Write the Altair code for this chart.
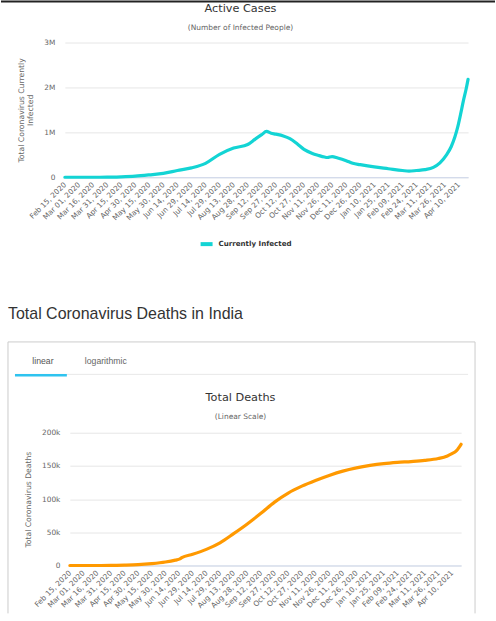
import altair as alt
import pandas as pd

# ---------------- data ----------------
active_dates = ["2020-02-15", "2020-03-01", "2020-03-16", "2020-03-31", "2020-04-15", "2020-04-30",
                "2020-05-15", "2020-05-30", "2020-06-14", "2020-06-29", "2020-07-14", "2020-07-29",
                "2020-08-13", "2020-08-28", "2020-09-05", "2020-09-12", "2020-09-17", "2020-09-22",
                "2020-09-27", "2020-10-05", "2020-10-12", "2020-10-20", "2020-10-27", "2020-11-05",
                "2020-11-11", "2020-11-18", "2020-11-21", "2020-11-26", "2020-12-02", "2020-12-11",
                "2020-12-18", "2020-12-26", "2021-01-10", "2021-01-25", "2021-02-09", "2021-02-16",
                "2021-02-24", "2021-03-05", "2021-03-14", "2021-03-21", "2021-03-28", "2021-04-02",
                "2021-04-06", "2021-04-09", "2021-04-12", "2021-04-15", "2021-04-18", "2021-04-20"]
active_values = [3, 3, 100, 1300, 10000, 25000,
                 53000, 87000, 150000, 210000, 310000, 510000,
                 650000, 730000, 850000, 950000, 1020000, 980000,
                 960000, 920000, 860000, 740000, 620000, 530000,
                 490000, 450000, 440000, 460000, 430000, 370000,
                 310000, 280000, 230000, 190000, 150000, 135000,
                 150000, 170000, 220000, 320000, 500000, 680000,
                 900000, 1120000, 1400000, 1700000, 1970000, 2180000]

death_dates = ["2020-02-15", "2020-03-10", "2020-03-20", "2020-03-31", "2020-04-15", "2020-04-30",
               "2020-05-15", "2020-05-30", "2020-06-10", "2020-06-15", "2020-06-17", "2020-06-29",
               "2020-07-14", "2020-07-29", "2020-08-13", "2020-08-28", "2020-09-12", "2020-09-27",
               "2020-10-12", "2020-10-27", "2020-11-11", "2020-11-26", "2020-12-11", "2020-12-26",
               "2021-01-10", "2021-01-25", "2021-02-09", "2021-02-24", "2021-03-11", "2021-03-26",
               "2021-04-05", "2021-04-10", "2021-04-15", "2021-04-20"]
death_values = [0, 0, 4, 35, 420, 1150,
                2750, 5200, 8100, 9900, 11900, 16900,
                24300, 34200, 48000, 62600, 78600, 95500,
                109150, 119500, 128100, 135700, 142200, 147100,
                150800, 153500, 155300, 156600, 158300, 161200,
                165100, 168400, 173100, 182600]

tick_dates = ["2020-02-15", "2020-03-01", "2020-03-16", "2020-03-31", "2020-04-15", "2020-04-30",
              "2020-05-15", "2020-05-30", "2020-06-14", "2020-06-29", "2020-07-14", "2020-07-29",
              "2020-08-13", "2020-08-28", "2020-09-12", "2020-09-27", "2020-10-12", "2020-10-27",
              "2020-11-11", "2020-11-26", "2020-12-11", "2020-12-26", "2021-01-10", "2021-01-25",
              "2021-02-09", "2021-02-24", "2021-03-11", "2021-03-26", "2021-04-10"]
active_ticks = [0, 1000000, 2000000, 3000000]
death_ticks = [0, 50000, 100000, 150000, 200000]
series_name = ["Currently Infected"]

# ---------------- style ----------------
CYAN = "#13d4d4"
ORANGE = "#ff9900"
FONT = "DejaVu Sans"
LABEL = "#666666"
DARK = "#333333"


def ms(d):
    return int(pd.Timestamp(d, tz="UTC").value // 10**6)


start, end = ms("2020-02-15"), ms("2021-04-20")
tick_ms = [ms(d) for d in tick_dates]
label_expr = "utcFormat(datum.value, '%b %d, %Y')"


def x_axis():
    return alt.Axis(values=tick_ms, labelExpr=label_expr, labelAngle=-45, labelAlign="right",
                    labelBaseline="middle", labelPadding=6, labelFontSize=7.4, labelColor=LABEL,
                    labelOverlap=False, labelFlush=False, labelFont=FONT, ticks=False, grid=False,
                    title=None, domain=True, domainColor="#ccd6eb")


def txt(chart_text, x, y, size, color=DARK, align="center", font=FONT, weight="normal"):
    return alt.Chart(pd.DataFrame({"t": [chart_text]})).mark_text(
        font=font, fontSize=size, color=color, align=align, baseline="alphabetic", fontWeight=weight
    ).encode(x=alt.value(x), y=alt.value(y), text="t:N")


def rule(x, x2, y, y2, color, width=1.0):
    return alt.Chart(pd.DataFrame({"a": [0]})).mark_rule(color=color, strokeWidth=width).encode(
        x=alt.value(x), x2=alt.value(x2), y=alt.value(y), y2=alt.value(y2))


def y_axis(ticks, expr, title, pad):
    return alt.Axis(values=ticks, labelExpr=expr, grid=True, gridColor="#e6e6e6", domain=False,
                    ticks=False, labelOverlap=False, labelPadding=pad, labelFontSize=7.4,
                    labelColor=LABEL, labelFont=FONT, title=title, titleFontSize=7.7,
                    titleColor=LABEL, titleFontWeight="normal", titleFont=FONT,
                    titlePadding=9, titleLineHeight=9.5)


# ---------------- top chart ----------------
active_df = pd.DataFrame({"date": active_dates, "value": active_values,
                          "series": series_name * len(active_dates)})

top_line = alt.Chart(active_df).mark_line(
    strokeWidth=3.2, interpolate="monotone", strokeCap="round", strokeJoin="round"
).encode(
    x=alt.X("date:T", scale=alt.Scale(type="utc", domain=[start, end], nice=False), axis=x_axis()),
    y=alt.Y("value:Q", scale=alt.Scale(domain=[0, 3000000], nice=False),
            axis=y_axis(active_ticks, "datum.value == 0 ? '0' : (datum.value / 1000000) + 'M'",
                        ["Total Coronavirus Currently", "Infected"], 10)),
    color=alt.Color("series:N", scale=alt.Scale(domain=series_name, range=[CYAN]),
                    legend=alt.Legend(orient="none", legendX=134, legendY=194, title=None,
                                      symbolType="stroke", symbolStrokeWidth=4, symbolSize=144,
                                      labelFont=FONT, labelFontWeight="bold", labelFontSize=7.1,
                                      labelColor=DARK, labelOffset=4, padding=0))
)

top = alt.layer(
    rule(-64, 431, -41, -41, "#222222", 2),
    top_line,
    txt("Active Cases", 176, -31, 11.3),
    txt("(Number of Infected People)", 176, -13, 7.5, color=LABEL),
).properties(width=404, height=135)

# ---------------- bottom chart ----------------
death_df = pd.DataFrame({"date": death_dates, "deaths": death_values})

death_line = alt.Chart(death_df).mark_line(
    strokeWidth=3.2, interpolate="monotone", strokeCap="round", strokeJoin="round", color=ORANGE
).encode(
    x=alt.X("date:T", scale=alt.Scale(type="utc", domain=[start, end], range=[5, 397], nice=False),
            axis=x_axis()),
    y=alt.Y("deaths:Q", scale=alt.Scale(domain=[0, 200000], nice=False),
            axis=y_axis(death_ticks, "datum.value == 0 ? '0' : (datum.value / 1000) + 'k'",
                        "Total Coronavirus Deaths", 5)),
)

bottom = alt.layer(
    death_line,
    txt("Total Coronavirus Deaths in India", -57, -114, 16, align="left", font="Liberation Sans"),
    rule(-57, -57, -91, 181, "#cccccc"),
    rule(411, 411, -91, 181, "#cccccc"),
    rule(-57, 411, -91, -91, "#cccccc"),
    rule(-50, 404, -58.5, -58.5, "#e8e8e8"),
    rule(-50, 2, -57.5, -57.5, "#2fc3ef", 2.5),
    txt("linear", -22, -69, 8.7, color="#555555", font="Liberation Sans"),
    txt("logarithmic", 41, -69, 8.7, color="#666666", font="Liberation Sans"),
    txt("Total Deaths", 176, -32, 11.3),
    txt("(Linear Scale)", 176, -14, 7.5, color=LABEL),
).properties(width=397, height=133)

chart = alt.vconcat(top, bottom, spacing=256, bounds="flush").configure(
    font=FONT, padding=0, background="white"
).configure_view(stroke=None).configure_axis(labelOverlap=False)

chart.save("out.html", embed_options={"renderer": "svg", "actions": False})
